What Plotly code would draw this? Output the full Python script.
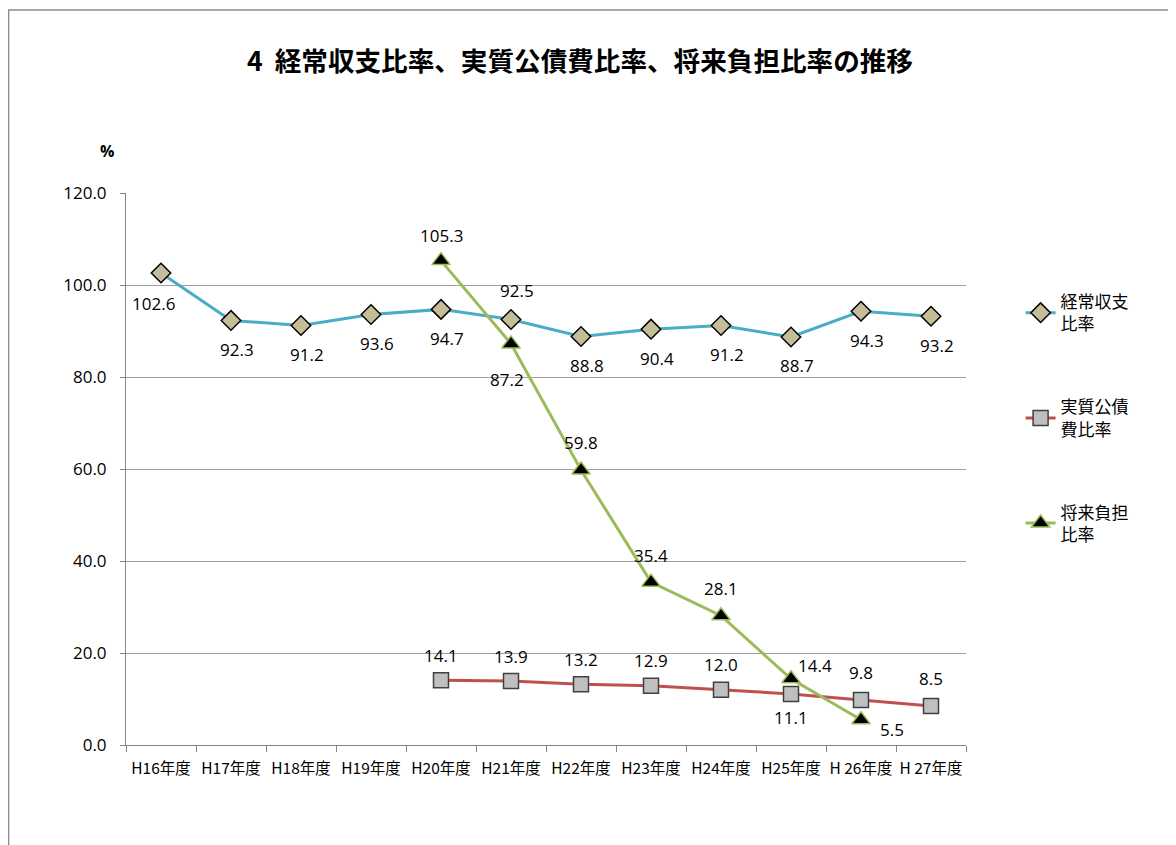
import plotly.graph_objects as go

categories = ["H16年度", "H17年度", "H18年度", "H19年度", "H20年度", "H21年度",
              "H22年度", "H23年度", "H24年度", "H25年度", "H 26年度", "H 27年度"]
keijo = [102.6, 92.3, 91.2, 93.6, 94.7, 92.5, 88.8, 90.4, 91.2, 88.7, 94.3, 93.2]
jisshitsu = [None, None, None, None, 14.1, 13.9, 13.2, 12.9, 12.0, 11.1, 9.8, 8.5]
shorai = [None, None, None, None, 105.3, 87.2, 59.8, 35.4, 28.1, 14.4, 5.5, None]
names = ["経常収支<br>比率", "実質公債<br>費比率", "将来負担<br>比率"]

# label offsets (pixels) per point
off1 = [(-8, 30)] + [(6, 29)] * 4 + [(6, -29)] + [(6, 29)] * 6
off2 = [(0, 0)] * 4 + [(0, -25)] * 5 + [(0, 24)] + [(0, -27)] * 2
off3 = [(0, 0)] * 4 + [(0, -25), (-4, 36), (0, -27), (0, -27), (0, -27), (24, -13), (31, 10), (0, 0)]

NUMFONT = "Open Sans"
JPFONT = "Noto Sans CJK JP"

fig = go.Figure()
fig.add_trace(go.Scatter(
    x=categories, y=keijo, name=names[0], mode="lines+markers",
    line=dict(color="#4BACC6", width=3),
    marker=dict(symbol="diamond", size=15, color="#C4BD97", line=dict(color="black", width=1.5)),
    legendgroup="a"))
fig.add_trace(go.Scatter(
    x=categories, y=jisshitsu, name=names[1], mode="lines+markers",
    line=dict(color="#C0504D", width=3),
    marker=dict(symbol="square", size=15, color="#BFBFBF", line=dict(color="#404040", width=1.5)),
    legendgroup="b"))
fig.add_trace(go.Scatter(
    x=categories, y=shorai, name=names[2], mode="lines+markers",
    line=dict(color="#9BBB59", width=3),
    marker=dict(symbol="triangle-up", size=16, color="black", line=dict(color="#9BBB59", width=1.5)),
    legendgroup="c"))

annotations = []
for vals, offs in [(keijo, off1), (jisshitsu, off2), (shorai, off3)]:
    for c, v, (dx, dy) in zip(categories, vals, offs):
        if v is None:
            continue
        annotations.append(dict(x=c, y=v, xref="x", yref="y", text=f"{v:.1f}",
                                showarrow=False, xshift=dx, yshift=-dy,
                                font=dict(size=17, color="black", family=NUMFONT)))

annotations.append(dict(x=-0.0333, y=1.099, xref="paper", yref="paper", text="<b>%</b>",
                        showarrow=False, font=dict(size=16, color="black", family=NUMFONT)))

fig.update_layout(
    width=1168, height=837,
    margin=dict(l=118, r=210, t=185, b=100),
    paper_bgcolor="white", plot_bgcolor="white",
    title=dict(text="<b>4  経常収支比率、実質公債費比率、将来負担比率の推移</b>",
               x=0.4897, xanchor="center", y=0.9355, yanchor="middle",
               font=dict(size=26.6, color="black", family=JPFONT)),
    showlegend=True,
    legend=dict(x=1.065, y=0.835, xanchor="left", yanchor="top",
                font=dict(size=17, color="black", family=JPFONT),
                tracegroupgap=58, itemwidth=30, bgcolor="rgba(0,0,0,0)"),
    annotations=annotations,
    xaxis=dict(type="category", range=[-0.5, 11.5], tickson="boundaries", ticks="outside", ticklen=6,
               tickcolor="#868686", showline=True, linecolor="#868686", showgrid=False,
               tickangle=0, automargin=False, ticklabelstandoff=9,
               tickfont=dict(size=15.5, color="black", family=JPFONT)),
    yaxis=dict(range=[0, 120], dtick=20, tickformat=".1f", ticks="outside", ticklen=5,
               tickcolor="#868686", showline=True, linecolor="#868686",
               showgrid=True, gridcolor="#A0A0A0", gridwidth=1, zeroline=False,
               automargin=False, ticklabelstandoff=10,
               tickfont=dict(size=17, color="black", family=NUMFONT)),
    shapes=[dict(type="rect", xref="paper", yref="paper",
                 x0=-0.1398, x1=1.3, y0=-0.3, y1=1.3315,
                 line=dict(color="#8C8C8C", width=1.5))],
)

fig.write_html("out.html")
